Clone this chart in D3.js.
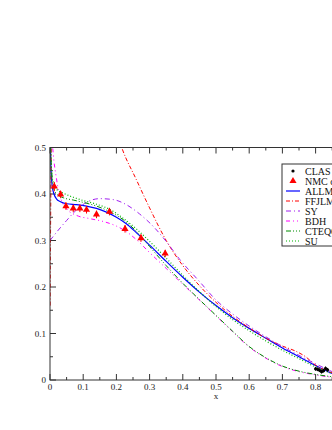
<!DOCTYPE html>
<html><head><meta charset="utf-8">
<script src="https://cdn.jsdelivr.net/npm/d3@7"></script>
<style>html,body{margin:0;padding:0;background:#fff;overflow:hidden;}</style>
</head><body>
<script>
// ---- data ----
const xTicks = [0,0.1,0.2,0.3,0.4,0.5,0.6,0.7,0.8];
const yTicks = [0,0.1,0.2,0.3,0.4,0.5];
const legendLabels = ["CLAS","NMC data","ALLM","FFJLM","SY","BDH","CTEQ6","SU"];

const clasX = [0.800,0.806,0.812,0.818,0.824,0.830,0.836];
const clasY = [0.024,0.023,0.021,0.018,0.020,0.025,0.022];
const clasErr = [0.004,0.004,0.004,0.004,0.004,0.004,0.004];

const nmcX = [0.013,0.032,0.048,0.070,0.090,0.110,0.140,0.179,0.226,0.274,0.347];
const nmcY = [0.416,0.399,0.374,0.369,0.369,0.366,0.356,0.362,0.325,0.305,0.272];
const nmcErr = [0.010,0.008,0.008,0.008,0.008,0.008,0.008,0.008,0.008,0.008,0.008];

const allmX = [0.001,0.002,0.004,0.007,0.012,0.02,0.03,0.05,0.08,0.11,0.14,0.17,0.2,0.23,0.26,0.3,0.35,0.4,0.45,0.5,0.55,0.6,0.65,0.7,0.75,0.8,0.85,0.9];
const allmY = [0.53,0.48,0.44,0.415,0.4,0.389,0.384,0.379,0.377,0.374,0.369,0.361,0.35,0.336,0.317,0.29,0.255,0.221,0.189,0.16,0.134,0.111,0.09,0.069,0.05,0.031,0.014,0.004];

const ffjlmX = [0.0005,0.001,0.002,0.003,0.004,0.01,0.05,0.15,0.2,0.216,0.26,0.3,0.35,0.4,0.45,0.5,0.55,0.6,0.65,0.7,0.74,0.77,0.8,0.84,0.9];
const ffjlmY = [0.16,0.25,0.35,0.45,0.55,1.0,1.2,0.65,0.535,0.5,0.431,0.37,0.3,0.246,0.203,0.167,0.137,0.112,0.09,0.073,0.062,0.05,0.032,0.018,0.006];

const syX = [0,0.02,0.05,0.08,0.11,0.15,0.19,0.23,0.27,0.31,0.35,0.39,0.45,0.5,0.55,0.6,0.65,0.7,0.75,0.8,0.85,0.9];
const syY = [0.30,0.318,0.343,0.366,0.382,0.39,0.388,0.377,0.357,0.331,0.298,0.26,0.212,0.172,0.142,0.116,0.093,0.072,0.053,0.035,0.018,0.006];

const bdhX = [0.003,0.008,0.012,0.018,0.025,0.035,0.05,0.08,0.12,0.16,0.2,0.23,0.26,0.3,0.35,0.4,0.45,0.5,0.55,0.6,0.65,0.7,0.75,0.8,0.85,0.9];
const bdhY = [0.53,0.5,0.47,0.44,0.41,0.385,0.368,0.354,0.347,0.341,0.331,0.319,0.302,0.274,0.24,0.206,0.172,0.138,0.104,0.071,0.047,0.029,0.018,0.011,0.006,0.003];

const cteqX = [0.001,0.003,0.006,0.01,0.02,0.04,0.07,0.1,0.14,0.18,0.22,0.26,0.3,0.35,0.4,0.45,0.5,0.55,0.6,0.65,0.7,0.75,0.8,0.85,0.9];
const cteqY = [0.53,0.48,0.44,0.415,0.4,0.392,0.387,0.382,0.374,0.362,0.345,0.32,0.287,0.246,0.208,0.173,0.139,0.105,0.072,0.048,0.03,0.019,0.012,0.007,0.003];

const suX = [0.001,0.003,0.006,0.01,0.02,0.04,0.07,0.1,0.14,0.18,0.22,0.26,0.3,0.35,0.4,0.45,0.5,0.55,0.6,0.65,0.7,0.75,0.8,0.85,0.9];
const suY = [0.53,0.47,0.44,0.425,0.41,0.402,0.393,0.386,0.378,0.367,0.348,0.325,0.298,0.262,0.225,0.19,0.158,0.13,0.106,0.084,0.064,0.046,0.028,0.014,0.004];

// ---- layout ----
const W = 400, H = 430;
const x = d3.scaleLinear().domain([0,1]).range([50,382]);
const y = d3.scaleLinear().domain([0,0.5]).range([380,147.5]);

const svg = d3.select("body").append("svg").attr("width",W).attr("height",H)
  .style("font-family","'Liberation Serif','DejaVu Serif',serif");

svg.append("clipPath").attr("id","pc").append("rect")
  .attr("x",x(0)).attr("y",y(0.5)).attr("width",x(1)-x(0)).attr("height",y(0)-y(0.5));

const axisCol = "#333";
const g = svg.append("g");
d3.range(0,1.0001,0.05).forEach((v,i)=>{
  const L = (i%2===0)?6:3;
  g.append("line").attr("x1",x(v)).attr("x2",x(v)).attr("y1",y(0)).attr("y2",y(0)-L).attr("stroke",axisCol);
  g.append("line").attr("x1",x(v)).attr("x2",x(v)).attr("y1",y(0.5)).attr("y2",y(0.5)+L).attr("stroke",axisCol);
});
d3.range(0,0.5001,0.05).forEach((v,i)=>{
  const L = (i%2===0)?6:3;
  g.append("line").attr("x1",x(0)).attr("x2",x(0)+L).attr("y1",y(v)).attr("y2",y(v)).attr("stroke",axisCol);
});
xTicks.forEach(v=>{
  svg.append("text").attr("x",x(v)).attr("y",y(0)+10).attr("text-anchor","middle")
    .attr("font-size",9).attr("fill","#222").text(v===0?"0":d3.format(".1f")(v));
});
yTicks.forEach(v=>{
  svg.append("text").attr("x",x(0)-4).attr("y",y(v)+3).attr("text-anchor","end")
    .attr("font-size",9).attr("fill","#222").text(v===0?"0":d3.format(".1f")(v));
});
svg.append("text").attr("x",x(0.5)).attr("y",y(0)+19).attr("text-anchor","middle")
  .attr("font-size",9).attr("fill","#222").text("x");

const series = [
  {x:allmX,y:allmY,color:"#0000ff",dash:null,w:1.2},
  {x:ffjlmX,y:ffjlmY,color:"#ff0000",dash:"4,2,1,2",w:1},
  {x:syX,y:syY,color:"#a020f0",dash:"5,3,1,3",w:1},
  {x:bdhX,y:bdhY,color:"#ff00ff",dash:"4,3,1,3,1,3",w:1},
  {x:cteqX,y:cteqY,color:"#008b00",dash:"5,2,1,2,1,2",w:1},
  {x:suX,y:suY,color:"#00b400",dash:"1,2",w:1.2}
];
const line = d3.line().x(d=>x(d[0])).y(d=>y(d[1])).curve(d3.curveMonotoneX);
const pg = svg.append("g").attr("clip-path","url(#pc)");
series.forEach(s=>{
  const pts = s.x.map((v,i)=>[v,s.y[i]]);
  pg.append("path").attr("d",line(pts)).attr("fill","none").attr("stroke",s.color)
    .attr("stroke-width",s.w).attr("stroke-dasharray",s.dash);
});

nmcX.forEach((v,i)=>{
  pg.append("line").attr("x1",x(v)).attr("x2",x(v)).attr("y1",y(nmcY[i]-nmcErr[i])).attr("y2",y(nmcY[i]+nmcErr[i]))
    .attr("stroke","#ff0000").attr("stroke-width",1);
  pg.append("path").attr("d",d3.symbol(d3.symbolTriangle,22)()).attr("transform",`translate(${x(v)},${y(nmcY[i])})`).attr("fill","#ff0000");
});
clasX.forEach((v,i)=>{
  pg.append("line").attr("x1",x(v)).attr("x2",x(v)).attr("y1",y(clasY[i]-clasErr[i])).attr("y2",y(clasY[i]+clasErr[i]))
    .attr("stroke","#000").attr("stroke-width",1);
  pg.append("circle").attr("cx",x(v)).attr("cy",y(clasY[i])).attr("r",1.6).attr("fill","#000");
});

svg.append("rect").attr("x",x(0)).attr("y",y(0.5)).attr("width",x(1)-x(0)).attr("height",y(0)-y(0.5))
  .attr("fill","none").attr("stroke",axisCol).attr("stroke-width",1);

const lg = svg.append("g");
const lx = 282, ly = 164;
lg.append("rect").attr("x",lx).attr("y",ly).attr("width",90).attr("height",82).attr("fill","#fff").attr("stroke",axisCol);
const legStyles = [
  {type:"circle",color:"#000"},
  {type:"tri",color:"#ff0000"},
  {type:"line",color:"#0000ff",dash:null,w:1.2},
  {type:"line",color:"#ff0000",dash:"4,2,1,2",w:1},
  {type:"line",color:"#a020f0",dash:"5,3,1,3",w:1},
  {type:"line",color:"#ff00ff",dash:"4,3,1,3,1,3",w:1},
  {type:"line",color:"#008b00",dash:"5,2,1,2,1,2",w:1},
  {type:"line",color:"#00b400",dash:"1,2",w:1.2}
];
legendLabels.forEach((lab,i)=>{
  const cy = 171 + i*10;
  const st = legStyles[i];
  if(st.type==="circle") lg.append("circle").attr("cx",293).attr("cy",cy).attr("r",1.6).attr("fill",st.color);
  else if(st.type==="tri") lg.append("path").attr("d",d3.symbol(d3.symbolTriangle,22)()).attr("transform",`translate(293,${cy})`).attr("fill",st.color);
  else lg.append("line").attr("x1",286).attr("x2",300).attr("y1",cy).attr("y2",cy).attr("stroke",st.color)
    .attr("stroke-width",st.w).attr("stroke-dasharray",st.dash);
  lg.append("text").attr("x",305).attr("y",cy+3.5).attr("font-size",10).attr("fill","#111").text(lab);
});
</script>
</body></html>
